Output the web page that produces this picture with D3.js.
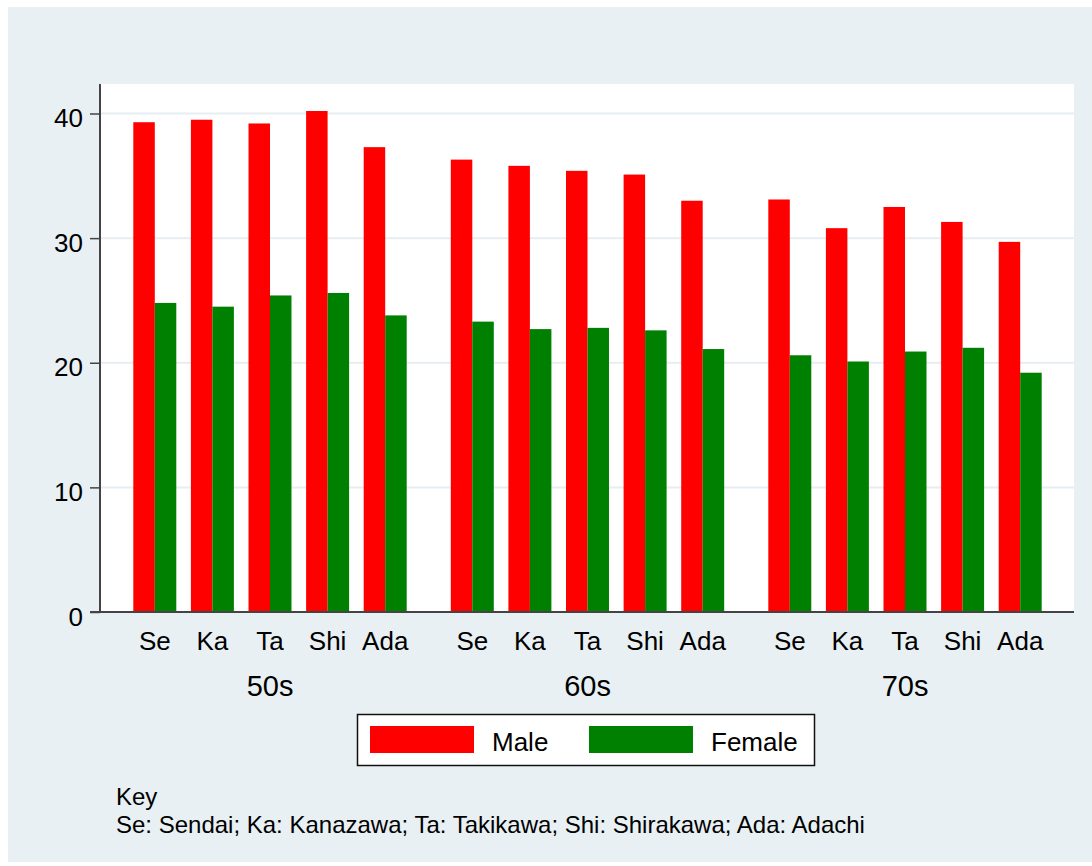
<!DOCTYPE html>
<html>
<head>
<meta charset="utf-8">
<script src="https://cdn.jsdelivr.net/npm/d3@7"></script>
<style>
  html, body { margin: 0; padding: 0; background: #ffffff; }
  svg { display: block; }
  text { font-family: "Liberation Sans", Arial, Helvetica, sans-serif; fill: #000; }
</style>
</head>
<body>
<svg id="chart" width="1092" height="866"></svg>
<script>
// ---- data ----
const groups = ["50s", "60s", "70s"];
const cities = ["Se", "Ka", "Ta", "Shi", "Ada"];
const sexes = ["Male", "Female"];
const maleValues = [
  [39.3, 39.5, 39.2, 40.2, 37.3],
  [36.3, 35.8, 35.4, 35.1, 33.0],
  [33.1, 30.8, 32.5, 31.3, 29.7]
];
const femaleValues = [
  [24.8, 24.5, 25.4, 25.6, 23.8],
  [23.3, 22.7, 22.8, 22.6, 21.1],
  [20.6, 20.1, 20.9, 21.2, 19.2]
];
const yTicks = [0, 10, 20, 30, 40];
const keyTitle = "Key";
const keyText = "Se: Sendai; Ka: Kanazawa; Ta: Takikawa; Shi: Shirakawa; Ada: Adachi";
const colors = { Male: "#ff0000", Female: "#008000" };

// ---- layout ----
const svg = d3.select("#chart");
const bg = "#e8f0f3";
const plot = { left: 100, right: 1074, top: 84, bottom: 612 };

svg.append("rect").attr("x", 8).attr("y", 7).attr("width", 1084).attr("height", 855).attr("fill", bg);
svg.append("rect").attr("x", plot.left).attr("y", plot.top)
  .attr("width", plot.right - plot.left).attr("height", plot.bottom - plot.top).attr("fill", "#ffffff");

const y = d3.scaleLinear().domain([0, 40]).range([612, 113.5]);
const xGroup = d3.scaleBand().domain(groups).range([111.25, 1063.75]).paddingInner(0).paddingOuter(0);
const xCity = d3.scaleBand().domain(cities).range([0, xGroup.bandwidth()]).paddingInner(0).paddingOuter(0.256);
const xSex = d3.scaleBand().domain(sexes).range([0, xCity.bandwidth()]).paddingInner(0).paddingOuter(0.34);

// gridlines
svg.append("g").selectAll("line").data(yTicks.filter(d => d > 0)).join("line")
  .attr("x1", plot.left + 1).attr("x2", plot.right)
  .attr("y1", d => y(d)).attr("y2", d => y(d))
  .attr("stroke", "#e6eef1").attr("stroke-width", 2);

// bars
const rows = [];
groups.forEach((g, gi) => cities.forEach((c, ci) => {
  rows.push({ g, c, s: "Male", v: maleValues[gi][ci] });
  rows.push({ g, c, s: "Female", v: femaleValues[gi][ci] });
}));
svg.append("g").selectAll("rect").data(rows).join("rect")
  .attr("x", d => xGroup(d.g) + xCity(d.c) + xSex(d.s))
  .attr("width", xSex.bandwidth())
  .attr("y", d => y(d.v))
  .attr("height", d => y(0) - y(d.v))
  .attr("fill", d => colors[d.s]);

// y axis
const yAxis = svg.append("g").attr("transform", `translate(${plot.left},0)`)
  .call(d3.axisLeft(y).tickValues(yTicks).tickSize(10).tickPadding(7));
yAxis.select(".domain").attr("d", `M0,${plot.top}V${plot.bottom}`).attr("stroke", "#444").attr("stroke-width", 2);
yAxis.selectAll(".tick line").attr("stroke", "#444").attr("stroke-width", 1.5);
yAxis.selectAll(".tick text").attr("font-size", 26).attr("dy", "0.5em")
  .style("font-family", "Liberation Sans, Arial, sans-serif").attr("fill", "#111");

// baseline
svg.append("line").attr("x1", 90).attr("x2", plot.right).attr("y1", y(0)).attr("y2", y(0))
  .attr("stroke", "#444").attr("stroke-width", 2);

// city labels per group
groups.forEach(g => {
  const ax = svg.append("g").attr("transform", `translate(${xGroup(g)},${y(0)})`)
    .call(d3.axisBottom(xCity).tickSize(0).tickPadding(0));
  ax.select(".domain").remove();
  ax.selectAll(".tick text").attr("font-size", 26).attr("dy", 0).attr("y", 38)
    .style("font-family", "Liberation Sans, Arial, sans-serif").attr("fill", "#111");
});

// group labels
const gAx = svg.append("g").attr("transform", `translate(0,${y(0)})`)
  .call(d3.axisBottom(xGroup).tickSize(0).tickPadding(0));
gAx.select(".domain").remove();
gAx.selectAll(".tick text").attr("font-size", 29).attr("dy", 0).attr("y", 84)
  .style("font-family", "Liberation Sans, Arial, sans-serif").attr("fill", "#111");

// legend
const leg = svg.append("g");
leg.append("rect").attr("x", 357.5).attr("y", 714.5).attr("width", 457).attr("height", 51)
  .attr("fill", "#fff").attr("stroke", "#111").attr("stroke-width", 1.5);
const legItems = [
  { s: "Male", sx: 370, tx: 492 },
  { s: "Female", sx: 589, tx: 711 }
];
legItems.forEach(it => {
  leg.append("rect").attr("x", it.sx).attr("y", 726).attr("width", 104).attr("height", 27).attr("fill", colors[it.s]);
  leg.append("text").attr("x", it.tx).attr("y", 751).attr("font-size", 26).attr("fill", "#111").text(it.s);
});

// key note
svg.append("text").attr("x", 116).attr("y", 805).attr("font-size", 24).attr("fill", "#333").text(keyTitle);
svg.append("text").attr("x", 116).attr("y", 833).attr("font-size", 24).attr("fill", "#333").text(keyText);
</script>
</body>
</html>
